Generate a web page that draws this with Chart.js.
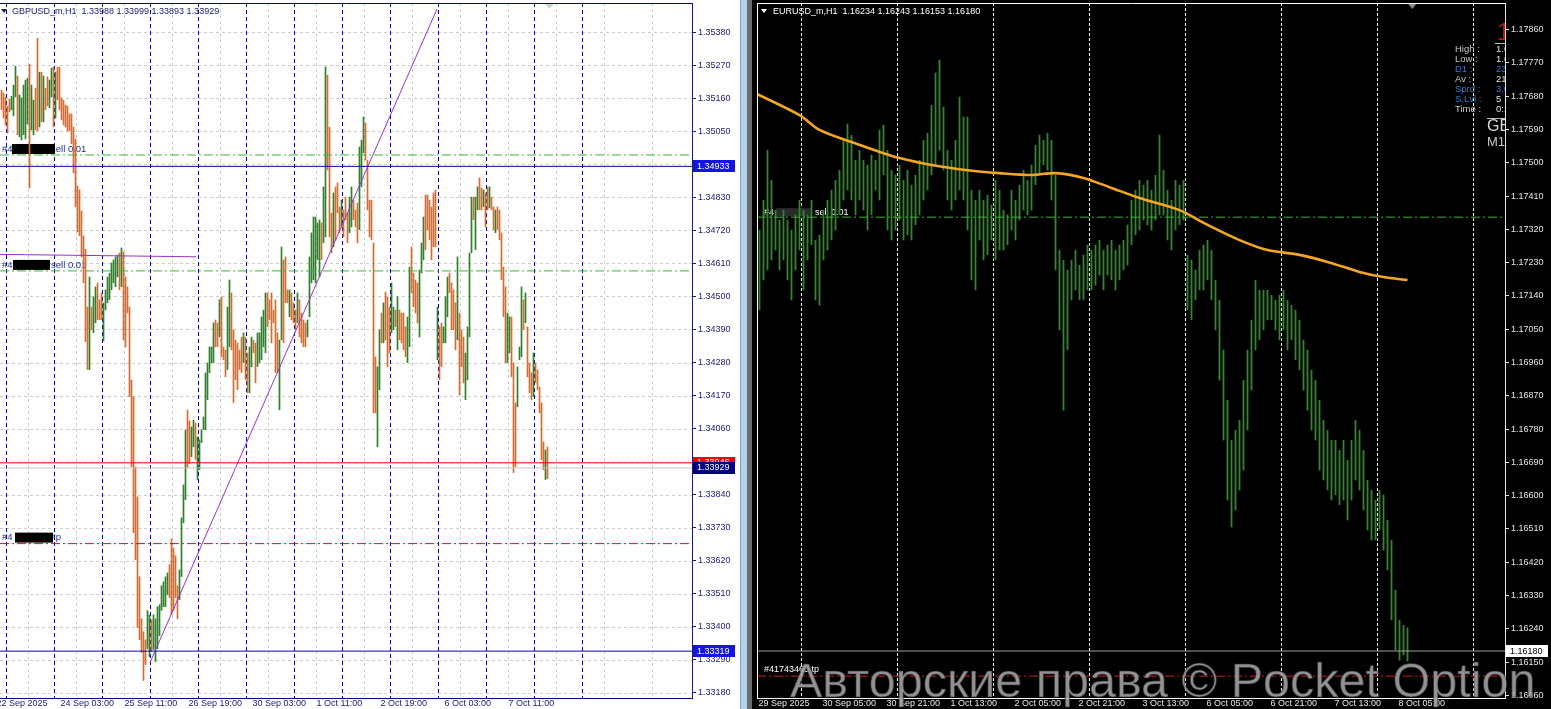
<!DOCTYPE html>
<html><head><meta charset="utf-8"><title>GBPUSD / EURUSD H1</title>
<script src="https://cdn.jsdelivr.net/npm/chart.js@4.4.1/dist/chart.umd.min.js"></script>
<style>
html,body{margin:0;padding:0;}
body{width:1551px;height:709px;position:relative;overflow:hidden;background:#fff;}
#cl{position:absolute;left:0;top:0;background:#fff;}
#cr{position:absolute;left:752px;top:0;background:#000;}
#s1{position:absolute;left:740px;top:0;width:1px;height:709px;background:#8fa6ba;}
#s2{position:absolute;left:741px;top:0;width:6px;height:709px;background:#b3d2ee;}
#s3{position:absolute;left:747px;top:0;width:5px;height:709px;background:#6e6e6e;}
</style></head><body>
<canvas id="cl" width="740" height="709"></canvas>
<div id="s1"></div><div id="s2"></div><div id="s3"></div>
<canvas id="cr" width="799" height="709"></canvas>
<script>
// ---------------- GBPUSD_m, H1 (left panel) ----------------
const gbpHigh = [
1.35187,1.35177,1.35164,1.35134,1.35157,1.35167,1.35204,1.35267,1.35234,1.35171,
1.35161,1.35204,1.35221,1.35227,1.35274,1.35204,1.35154,1.35194,1.35360,1.35247,
1.35247,1.35234,1.35194,1.35231,1.35221,1.35261,1.35264,1.35247,1.35264,1.35264,
1.35161,1.35154,1.35138,1.35134,1.35108,1.35108,1.35064,1.35024,1.34868,1.34855,
1.34785,1.34702,1.34658,1.34465,1.34565,1.34465,1.34499,1.34532,1.34545,1.34489,
1.34512,1.34479,1.34522,1.34565,1.34578,1.34612,1.34622,1.34632,1.34638,1.34645,
1.34662,1.34648,1.34565,1.34532,1.34465,1.34222,1.34166,1.33933,1.33833,1.33567,
1.33427,1.33384,1.33357,1.33454,1.33440,1.33424,1.33440,1.33427,1.33467,1.33474,
1.33537,1.33550,1.33567,1.33580,1.33607,1.33693,1.33663,1.33637,1.33537,1.33590,
1.33763,1.33873,1.34056,1.34122,1.34086,1.34066,1.34089,1.34079,1.34033,1.34023,
1.34056,1.34099,1.34246,1.34279,1.34332,1.34332,1.34412,1.34422,1.34412,1.34489,
1.34499,1.34332,1.34322,1.34465,1.34555,1.34512,1.34389,1.34355,1.34345,1.34322,
1.34365,1.34379,1.34365,1.34312,1.34332,1.34365,1.34355,1.34345,1.34379,1.34379,
1.34432,1.34455,1.34512,1.34512,1.34489,1.34512,1.34455,1.34489,1.34379,1.34355,
1.34665,1.34622,1.34632,1.34522,1.34522,1.34512,1.34479,1.34455,1.34512,1.34489,
1.34445,1.34422,1.34412,1.34422,1.34632,1.34712,1.34765,1.34765,1.34745,1.34755,
1.34745,1.34865,1.35264,1.35237,1.35064,1.34778,1.34845,1.34865,1.34878,1.34798,
1.34821,1.34788,1.34831,1.34778,1.34831,1.34865,1.34821,1.34788,1.34811,1.34998,
1.35021,1.35098,1.35078,1.34954,1.34821,1.34821,1.34678,1.34299,1.34266,1.34389,
1.34445,1.34479,1.34515,1.34499,1.34465,1.34545,1.34465,1.34455,1.34499,1.34455,
1.34445,1.34445,1.34399,1.34432,1.34598,1.34665,1.34578,1.34555,1.34545,1.34588,
1.34678,1.34765,1.34838,1.34838,1.34821,1.34798,1.34845,1.34855,1.34465,1.34399,
1.34412,1.34399,1.34499,1.34565,1.34578,1.34545,1.34522,1.34479,1.34632,1.34445,
1.34389,1.34365,1.34312,1.34399,1.34645,1.34831,1.34831,1.34831,1.34865,1.34895,
1.34861,1.34855,1.34845,1.34865,1.34865,1.34831,1.34798,1.34788,1.34798,1.34788,
1.34712,1.34598,1.34532,1.34445,1.34432,1.34432,1.34279,1.34146,1.34266,1.34332,
1.34532,1.34489,1.34512,1.34399,1.34279,1.34246,1.34312,1.34279,1.34256,1.34199,
1.34146,1.34016,1.33989,1.33999];
const gbpLow = [
1.35121,1.35094,1.35071,1.35044,1.35114,1.35121,1.35101,1.35164,1.35038,1.35031,
1.35021,1.35038,1.35024,1.35074,1.34861,1.35054,1.35038,1.35054,1.35051,1.35064,
1.35081,1.35081,1.35121,1.35134,1.35128,1.35164,1.35064,1.35094,1.35154,1.35121,
1.35088,1.35071,1.35064,1.35051,1.35051,1.35008,1.34911,1.34798,1.34715,1.34702,
1.34632,1.34545,1.34349,1.34256,1.34256,1.34389,1.34379,1.34412,1.34422,1.34422,
1.34422,1.34352,1.34455,1.34479,1.34489,1.34522,1.34545,1.34532,1.34565,1.34522,
1.34532,1.34355,1.34332,1.34445,1.34166,1.33933,1.33713,1.33623,1.33397,1.33357,
1.33314,1.33221,1.33274,1.33327,1.33300,1.33317,1.33324,1.33284,1.33327,1.33370,
1.33454,1.33467,1.33467,1.33507,1.33497,1.33440,1.33454,1.33497,1.33427,1.33490,
1.33567,1.33746,1.33823,1.33929,1.33943,1.33966,1.33999,1.33956,1.33890,1.33923,
1.34013,1.34056,1.34056,1.34156,1.34246,1.34279,1.34279,1.34332,1.34332,1.34365,
1.34299,1.34289,1.34232,1.34256,1.34332,1.34322,1.34146,1.34222,1.34189,1.34256,
1.34246,1.34279,1.34222,1.34179,1.34179,1.34266,1.34312,1.34212,1.34266,1.34279,
1.34289,1.34332,1.34312,1.34399,1.34422,1.34345,1.34412,1.34246,1.34246,1.34122,
1.34355,1.34345,1.34479,1.34479,1.34432,1.34422,1.34412,1.34389,1.34412,1.34365,
1.34345,1.34332,1.34332,1.34365,1.34432,1.34545,1.34555,1.34545,1.34622,1.34565,
1.34622,1.34678,1.34698,1.34921,1.34698,1.34645,1.34665,1.34688,1.34778,1.34712,
1.34731,1.34698,1.34755,1.34678,1.34712,1.34731,1.34755,1.34731,1.34678,1.34722,
1.34865,1.34978,1.34954,1.34788,1.34698,1.34688,1.34112,1.34112,1.33999,1.34189,
1.34345,1.34345,1.34355,1.34266,1.34312,1.34379,1.34389,1.34399,1.34322,1.34355,
1.34345,1.34322,1.34299,1.34279,1.34332,1.34512,1.34465,1.34445,1.34412,1.34365,
1.34578,1.34622,1.34655,1.34722,1.34688,1.34622,1.34665,1.34665,1.34289,1.34222,
1.34266,1.34345,1.34345,1.34432,1.34512,1.34389,1.34389,1.34322,1.34355,1.34172,
1.34266,1.34212,1.34156,1.34222,1.34365,1.34645,1.34755,1.34655,1.34788,1.34788,
1.34788,1.34798,1.34731,1.34788,1.34795,1.34788,1.34722,1.34712,1.34722,1.34688,
1.34555,1.34432,1.34279,1.34279,1.34312,1.34232,1.33913,1.33933,1.34132,1.34289,
1.34299,1.34389,1.34412,1.34232,1.34179,1.34156,1.34166,1.34212,1.34189,1.34112,
1.33956,1.33923,1.33890,1.33893];
const gbpDir = "ddddduuudu"+"uuuuduuddu"+"dudduududd"+"dddddddddd"+"dddduduudd"+"duuuuuuuud"+"uddddddddd"+"ddduuduuuu"+"uuuudddddu"+"uuudduuduu"+"uuuuuuuddu"+"ddduuddddd"+"dudduudduu"+"uuuddddddu"+"udddudddud"+"ddduuuuuuu"+"duuddduddd"+"uddduudddu"+"uudddddduu"+"duddduudud"+"ddduuddddu"+"uuddddddud"+"duuuddddud"+"dduuuuduud"+"dudduddudd"+"ddduuddduu"+"ududdduddd"+"ddud";
const gbpYTicks = [1.3318,1.3329,1.3340,1.3351,1.3362,1.3373,1.3384,1.3395,1.3406,1.3417,1.3428,1.3439,1.3450,1.3461,1.3472,1.3483,1.3494,1.3505,1.3516,1.3527,1.3538];
const gbpTimeIdx = [-2,30,62,94,126,158,190,222,254];
const gbpTimeLabels = ["22 Sep 2025","24 Sep 03:00","25 Sep 11:00","26 Sep 19:00","30 Sep 03:00","1 Oct 11:00","2 Oct 19:00","6 Oct 03:00","7 Oct 11:00"];
const gbpSepIdx = [2.5,26.5,50.5,74.5,98.5,122.5,146.5,170.5,194.5,218.5,242.5,266.5,290.5];
const gbpGridIdx = [13.5,37.5,61.5,85.5,109.5,133.5,157.5,181.5,205.5,229.5,253.5,277.5,301.5,325.5];
// order / price levels: sell#1, navy level, sell#2, ask, bid, tp, navy level
const gbpLevels = [1.34971,1.34933,1.34585,1.33946,1.33929,1.33677,1.33319];
const gbpTrendIdx = [74.25,217.75];
const gbpTrendVal = [1.33281,1.35457];
const gbpShortIdx = [-0.75,97.25];
const gbpShortVal = [1.34640,1.34632];
const gbpBoxVals = [1.34933,1.33946,1.33929,1.33319];
const gbpQuote = ["1.33988","1.33999","1.33893","1.33929"];

// ---------------- EURUSD_m, H1 (right panel) ----------------
const eurHigh = [
1.17318,1.17399,1.17534,1.17453,1.17372,1.17345,1.17372,1.17345,1.17318,1.17359,
1.17399,1.17372,1.17359,1.17399,1.17291,1.17305,1.17372,1.17399,1.17426,1.17453,
1.17480,1.17561,1.17605,1.17575,1.17507,1.17534,1.17507,1.17494,1.17521,1.17507,
1.17589,1.17602,1.17534,1.17480,1.17467,1.17494,1.17453,1.17480,1.17440,1.17467,
1.17507,1.17561,1.17580,1.17656,1.17743,1.17778,1.17651,1.17534,1.17507,1.17561,
1.17678,1.17624,1.17624,1.17426,1.17399,1.17426,1.17399,1.17413,1.17386,1.17453,
1.17426,1.17372,1.17359,1.17426,1.17399,1.17440,1.17480,1.17453,1.17494,1.17548,
1.17575,1.17561,1.17580,1.17561,1.17467,1.17264,1.17237,1.17210,1.17237,1.17264,
1.17223,1.17251,1.17278,1.17264,1.17278,1.17291,1.17264,1.17278,1.17291,1.17264,
1.17278,1.17291,1.17332,1.17399,1.17426,1.17453,1.17440,1.17453,1.17426,1.17467,
1.17575,1.17480,1.17426,1.17399,1.17453,1.17440,1.17453,1.17251,1.17237,1.17210,
1.17264,1.17278,1.17291,1.17264,1.17183,1.17129,1.16994,1.16858,1.16750,1.16777,
1.16804,1.16912,1.16994,1.17075,1.17183,1.17156,1.17156,1.17156,1.17142,1.17129,
1.17142,1.17156,1.17129,1.17115,1.17102,1.17075,1.17021,1.16994,1.16940,1.16912,
1.16858,1.16804,1.16777,1.16750,1.16750,1.16723,1.16750,1.16696,1.16750,1.16804,
1.16777,1.16723,1.16642,1.16615,1.16588,1.16615,1.16602,1.16534,1.16480,1.16345,
1.16264,1.16250,1.16243];
const eurLow = [
1.17102,1.17183,1.17210,1.17237,1.17264,1.17210,1.17237,1.17183,1.17129,1.17210,
1.17264,1.17156,1.17237,1.17278,1.17129,1.17115,1.17237,1.17264,1.17291,1.17318,
1.17359,1.17399,1.17426,1.17399,1.17359,1.17399,1.17372,1.17318,1.17359,1.17426,
1.17399,1.17467,1.17318,1.17291,1.17318,1.17345,1.17291,1.17305,1.17291,1.17332,
1.17359,1.17399,1.17426,1.17467,1.17494,1.17534,1.17480,1.17399,1.17372,1.17399,
1.17426,1.17399,1.17318,1.17183,1.17156,1.17291,1.17237,1.17251,1.17291,1.17237,
1.17264,1.17264,1.17278,1.17318,1.17291,1.17345,1.17372,1.17359,1.17372,1.17440,
1.17467,1.17494,1.17480,1.17399,1.17210,1.17048,1.16831,1.16994,1.17129,1.17156,
1.17129,1.17129,1.17156,1.17156,1.17169,1.17196,1.17156,1.17196,1.17183,1.17156,
1.17183,1.17210,1.17223,1.17278,1.17305,1.17318,1.17345,1.17332,1.17318,1.17345,
1.17359,1.17359,1.17291,1.17264,1.17318,1.17332,1.17345,1.17102,1.17075,1.17129,
1.17156,1.17156,1.17183,1.17129,1.17048,1.16912,1.16750,1.16588,1.16515,1.16561,
1.16615,1.16669,1.16777,1.16885,1.16994,1.17021,1.17048,1.17075,1.17075,1.17048,
1.17021,1.17048,1.16994,1.17021,1.16967,1.16940,1.16885,1.16831,1.16777,1.16750,
1.16669,1.16642,1.16615,1.16588,1.16602,1.16575,1.16588,1.16534,1.16588,1.16642,
1.16615,1.16561,1.16507,1.16480,1.16480,1.16507,1.16453,1.16399,1.16264,1.16182,
1.16155,1.16169,1.16153];
const eurMAIdx = [-0.6,10,15,23,31,35,43,52,60,68,74,81,88,95,105,112,120,127,135,142,150,156,162];
const eurMAVal = [1.17686,1.17629,1.17589,1.17556,1.17526,1.17513,1.17494,1.17480,1.17472,1.17467,1.17472,1.17459,1.17432,1.17405,1.17372,1.17332,1.17291,1.17264,1.17251,1.17232,1.17205,1.17191,1.17183];
const eurYTicks = [1.1606,1.1615,1.1624,1.1633,1.1642,1.1651,1.1660,1.1669,1.1678,1.1687,1.1696,1.1705,1.1714,1.1723,1.1732,1.1741,1.1750,1.1759,1.1768,1.1777,1.1786];
const eurTimeIdx = [0,16,32,48,64,80,96,112,128,144,160];
const eurTimeLabels = ["29 Sep 2025","30 Sep 05:00","30 Sep 21:00","1 Oct 13:00","2 Oct 05:00","2 Oct 21:00","3 Oct 13:00","6 Oct 05:00","6 Oct 21:00","7 Oct 13:00","8 Oct 05:00"];
const eurSepIdx = [10.5,34.5,58.5,82.5,106.5,130.5,154.5,178.5];
// sell order, bid, take profit
const eurLevels = [1.17353,1.16180,1.16112];
const eurQuote = ["1.16234","1.16243","1.16153","1.16180"];
const infoLabels = ["High :","Low :","D1 :","Av :","Sprd :","S.Lvl :","Time :"];
const infoValues = ["1.6","1.6","23","21","3.0","5","0:1"];

// ---------------- helpers ----------------
const FONT = '"Liberation Sans", Arial, sans-serif';
const NAVY = '#000080', NAVYT = '#1b1b6e';
function T(ctx, s, x, y, color, size, align, base) {
  ctx.font = size + 'px ' + FONT; ctx.fillStyle = color;
  ctx.textAlign = align || 'left'; ctx.textBaseline = base || 'middle';
  ctx.fillText(s, x, y);
}
function L(ctx, x1, y1, x2, y2) { ctx.beginPath(); ctx.moveTo(x1, y1); ctx.lineTo(x2, y2); ctx.stroke(); }
function clipArea(ctx, a) { ctx.beginPath(); ctx.rect(a.left, a.top, a.right - a.left, a.bottom - a.top); ctx.clip(); }
function tri(ctx, x, y, w, h, color) { ctx.fillStyle = color; ctx.beginPath(); ctx.moveTo(x, y); ctx.lineTo(x + w, y); ctx.lineTo(x + w / 2, y + h); ctx.closePath(); ctx.fill(); }
function yAxis(min, max, ticks, color, width) {
  return {
    type: 'linear', position: 'right', min: min, max: max,
    afterBuildTicks: s => { s.ticks = ticks.map(v => ({ value: v })); },
    afterFit: s => { s.width = width; s.paddingTop = 0; s.paddingBottom = 0; },
    ticks: { autoSkip: false, color: color, padding: 2, font: { family: FONT, size: 9 }, callback: v => Number(v).toFixed(5) },
    grid: { display: true, drawOnChartArea: false, drawTicks: true, tickLength: 4, tickColor: color, color: color },
    border: { display: true, color: color, width: 1 }
  };
}
function hline(xmin, xmax, v, color, dash) {
  return { type: 'line', data: [{ x: xmin, y: v }, { x: xmax, y: v }], borderColor: color, borderWidth: 1, borderDash: dash, pointRadius: 0, order: 1 };
}
const DASHDOT = [9, 3, 2, 3];

// ---------------- left chart ----------------
const GX0 = -0.75, GX1 = 345.25;
const gbpPlugin = {
  id: 'gbpExtras',
  beforeDatasetsDraw(chart) {
    const { ctx, chartArea: a, scales: { x, y } } = chart;
    ctx.save(); clipArea(ctx, a); ctx.lineWidth = 1;
    ctx.strokeStyle = '#cdcdcd'; ctx.setLineDash([3, 3]);
    gbpYTicks.forEach(v => { const p = Math.round(y.getPixelForValue(v)) + 0.5; L(ctx, a.left, p, a.right, p); });
    gbpGridIdx.forEach(i => { const p = Math.floor(x.getPixelForValue(i)) + 0.5; L(ctx, p, a.top, p, a.bottom); });
    ctx.strokeStyle = NAVY; ctx.setLineDash([4, 3]);
    gbpSepIdx.forEach(i => { const p = Math.floor(x.getPixelForValue(i)) + 0.5; L(ctx, p, a.top, p, a.bottom); });
    ctx.setLineDash([]);
    // order labels (identifiers blacked out as in the screenshot)
    const lab = [[gbpLevels[0], 'sell 0.01', 51, 12, 43], [gbpLevels[2], 'sell 0.01', 51, 13, 37], [gbpLevels[5], 'tp', 53, 15, 38]];
    lab.forEach(([v, s, tx, bx, bw]) => {
      const p = y.getPixelForValue(v);
      T(ctx, '#4', a.left + 2, p - 6, '#1c2d8c', 9.5);
      T(ctx, s, a.left + tx, p - 6, '#1c2d8c', 9.5);
      ctx.fillStyle = '#000'; ctx.fillRect(a.left + bx, p - 11, bw, 10);
    });
    ctx.restore();
  },
  afterDraw(chart) {
    const { ctx, chartArea: a, scales: { x, y } } = chart;
    ctx.save(); ctx.lineWidth = 1; ctx.strokeStyle = NAVY; ctx.setLineDash([]);
    L(ctx, a.left, a.top + 0.5, a.right + 1, a.top + 0.5);
    L(ctx, a.left, a.bottom + 0.5, a.right + 1, a.bottom + 0.5);
    const bg = ['#1414e6', '#f00000', '#000080', '#1414e6'];
    gbpBoxVals.forEach((v, k) => {
      const p = y.getPixelForValue(v);
      ctx.fillStyle = bg[k]; ctx.fillRect(a.right + 1, Math.round(p) - 6, 42, 12);
      T(ctx, v.toFixed(5), a.right + 5, p, '#fff', 9);
    });
    gbpTimeIdx.forEach((i, k) => T(ctx, gbpTimeLabels[k], x.getPixelForValue(i) - 1, 704, NAVYT, 9));
    tri(ctx, 1, 9, 6, 4, NAVYT);
    T(ctx, 'GBPUSD_m,H1  ' + gbpQuote.join(' '), 12, 12, NAVYT, 9);
    tri(ctx, x.getPixelForValue(273.5) - 3, a.top + 1, 8, 5, '#d0d0d0');
    ctx.restore();
  }
};
new Chart(document.getElementById('cl'), {
  type: 'bar',
  data: {
    datasets: [
      hline(GX0, GX1, gbpLevels[0], '#3cb43c', DASHDOT),
      hline(GX0, GX1, gbpLevels[1], '#0a0aa0', []),
      hline(GX0, GX1, gbpLevels[2], '#3cb43c', DASHDOT),
      hline(GX0, GX1, gbpLevels[3], '#ff0000', []),
      hline(GX0, GX1, gbpLevels[4], '#c4c4c4', []),
      hline(GX0, GX1, gbpLevels[5], '#c8143c', DASHDOT),
      hline(GX0, GX1, gbpLevels[6], '#0a0aa0', []),
      { type: 'line', data: gbpShortIdx.map((v, k) => ({ x: v, y: gbpShortVal[k] })), borderColor: '#9932cc', borderWidth: 1, pointRadius: 0, order: 1 },
      { type: 'line', data: gbpTrendIdx.map((v, k) => ({ x: v, y: gbpTrendVal[k] })), borderColor: '#9932cc', borderWidth: 1, pointRadius: 0, order: 1 },
      { type: 'bar', data: gbpHigh.map((h, i) => ({ x: i, y: [gbpLow[i], h] })),
        backgroundColor: gbpDir.split('').map(c => c === 'u' ? '#238a1e' : '#f06418'),
        barThickness: 1.3, inflateAmount: 0.2, borderWidth: 0, order: 2 }
    ]
  },
  options: {
    responsive: false, animation: false, events: [],
    layout: { padding: { left: 0, right: 0, top: 3, bottom: 11 } },
    plugins: { legend: { display: false }, tooltip: { enabled: false } },
    scales: {
      x: { type: 'linear', display: false, min: GX0, max: GX1, offset: false },
      y: yAxis(1.33163, 1.35477, gbpYTicks, NAVYT, 48)
    }
  },
  plugins: [gbpPlugin]
});

// ---------------- right chart ----------------
const EX0 = -0.625, EX1 = 186.375;
const eurPlugin = {
  id: 'eurExtras',
  beforeDatasetsDraw(chart) {
    const { ctx, chartArea: a, scales: { x, y } } = chart;
    ctx.save(); clipArea(ctx, a); ctx.lineWidth = 1;
    ctx.strokeStyle = '#ffffff'; ctx.setLineDash([3, 2]);
    eurSepIdx.forEach(i => { const p = Math.floor(x.getPixelForValue(i)) + 0.5; L(ctx, p, a.top, p, a.bottom); });
    ctx.setLineDash([]);
    const ps = y.getPixelForValue(eurLevels[0]);
    T(ctx, '#4', a.left + 7, ps - 5, '#fff', 9);
    ctx.fillStyle = '#2b2b2b'; ctx.fillRect(a.left + 19, ps - 9, 36, 8);
    T(ctx, 'sell 0.01', a.left + 58, ps - 5, '#fff', 9);
    const pt = y.getPixelForValue(eurLevels[2]);
    T(ctx, '#41743465 tp', a.left + 7, pt - 7, '#fff', 9);
    ctx.restore();
  },
  afterDraw(chart) {
    const { ctx, chartArea: a, scales: { x, y } } = chart;
    ctx.save(); ctx.lineWidth = 1; ctx.strokeStyle = '#ffffff'; ctx.setLineDash([]);
    L(ctx, a.left, a.top + 0.5, a.right + 1, a.top + 0.5);
    L(ctx, a.left + 0.5, a.top, a.left + 0.5, a.bottom + 1);
    L(ctx, a.left, a.bottom + 0.5, a.right + 1, a.bottom + 0.5);
    // bid box
    const pb = y.getPixelForValue(eurLevels[1]);
    ctx.fillStyle = '#fff'; ctx.fillRect(a.right + 1, Math.round(pb) - 6, 42, 12);
    T(ctx, eurLevels[1].toFixed(5), a.right + 5, pb, '#000', 9);
    eurTimeIdx.forEach((i, k) => T(ctx, eurTimeLabels[k], x.getPixelForValue(i) - 1, 704, '#e6e6e6', 9));
    tri(ctx, 9, 9, 6, 4, '#fff');
    T(ctx, 'EURUSD_m,H1  ' + eurQuote.join(' '), 21, 12, '#fff', 9);
    tri(ctx, x.getPixelForValue(163.2) - 4, a.top + 1, 8, 5, '#8c8c8c');
    // info panel (clipped by the price axis)
    ctx.save(); clipArea(ctx, a);
    const R = a.right;
    T(ctx, '1', R - 8, 40, '#b0191e', 24, 'left', 'alphabetic');
    ctx.strokeStyle = '#bdbdbd'; L(ctx, R - 10, 43.5, R, 43.5);
    const blue = '#3a78c8', gray = '#c8c8c8';
    const cols = [gray, gray, blue, gray, blue, blue, gray];
    const vcols = ['#e0e0e0', '#e0e0e0', blue, '#e0e0e0', blue, '#e0e0e0', '#e0e0e0'];
    infoLabels.forEach((s, k) => { T(ctx, s, R - 50, 49 + 10 * k, cols[k], 9.5); T(ctx, infoValues[k], R - 9, 49 + 10 * k, vcols[k], 9.5); });
    L(ctx, R - 18, 118.5, R, 118.5);
    T(ctx, 'GBPUSD', R - 18, 127, '#d8d8d8', 16);
    T(ctx, 'M15', R - 18, 142, '#c8c8c8', 13);
    ctx.restore();
    // watermark
    ctx.font = '48.5px ' + FONT; ctx.textAlign = 'left'; ctx.textBaseline = 'alphabetic';
    ctx.fillStyle = 'rgba(170,170,170,0.85)';
    ctx.fillText('Авторские права © Pocket Option', 38, 697);
    ctx.strokeStyle = 'rgba(40,40,40,0.6)'; ctx.lineWidth = 1;
    ctx.strokeText('Авторские права © Pocket Option', 38, 697);
    ctx.restore();
  }
};
new Chart(document.getElementById('cr'), {
  type: 'bar',
  data: {
    datasets: [
      { type: 'line', data: eurMAIdx.map((v, k) => ({ x: v, y: eurMAVal[k] })), borderColor: '#f5a623', borderWidth: 2.6, pointRadius: 0, tension: 0.3, order: 0 },
      hline(EX0, EX1, eurLevels[0], '#3cb43c', DASHDOT),
      hline(EX0, EX1, eurLevels[1], '#a0a0a0', []),
      hline(EX0, EX1, eurLevels[2], '#c81e1e', DASHDOT),
      { type: 'bar', data: eurHigh.map((h, i) => ({ x: i, y: [eurLow[i], h] })),
        backgroundColor: '#2f8a26', barThickness: 1.4, inflateAmount: 0.2, borderWidth: 0, order: 2 }
    ]
  },
  options: {
    responsive: false, animation: false, events: [],
    layout: { padding: { left: 5, right: 0, top: 3, bottom: 11 } },
    plugins: { legend: { display: false }, tooltip: { enabled: false } },
    scales: {
      x: { type: 'linear', display: false, min: EX0, max: EX1, offset: false },
      y: yAxis(1.16053, 1.17932, eurYTicks, '#e6e6e6', 46)
    }
  },
  plugins: [eurPlugin]
});
</script>
</body></html>
